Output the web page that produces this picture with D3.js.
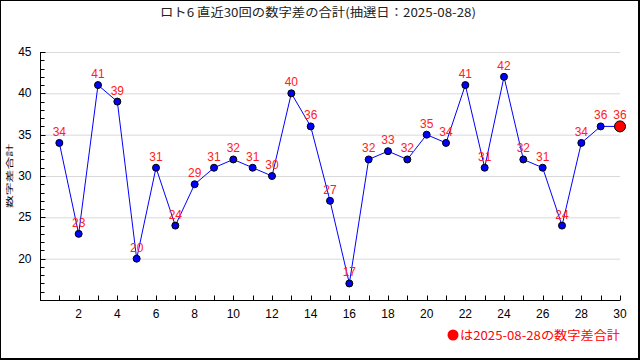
<!DOCTYPE html>
<html>
<head>
<meta charset="utf-8">
<script src="https://cdn.jsdelivr.net/npm/d3@7"></script>
<style>
  body { margin: 0; background: #fff; }
  svg { display: block; }
  text { font-family: "Liberation Sans", "Noto Sans CJK JP", sans-serif; }
  .cjk { font-family: "Noto Sans CJK JP", sans-serif; }
</style>
</head>
<body>
<svg width="640" height="360"></svg>
<script>
const title = "ロト6 直近30回の数字差の合計(抽選日：2025-08-28)";
const yLabel = "数字差合計";
const legendText = "は2025-08-28の数字差合計";

const draws = d3.range(1, 31);
const diffSums = [34, 23, 41, 39, 20, 31, 24, 29, 31, 32, 31, 30, 40, 36, 27,
                  17, 32, 33, 32, 35, 34, 41, 31, 42, 32, 31, 24, 34, 36, 36];
const yTicks = [20, 25, 30, 35, 40, 45];
const xTicks = d3.range(2, 31, 2);

const svg = d3.select("svg"),
    width = +svg.attr("width"),
    height = +svg.attr("height");

// frame
svg.append("rect").attr("width", width).attr("height", height).attr("fill", "#000");
svg.append("rect").attr("x", 1).attr("y", 1)
    .attr("width", width - 3).attr("height", height - 3).attr("fill", "#fff");

const x = d3.scaleLinear().domain([0, 30]).range([40, 620]);
const y = d3.scaleLinear().domain([15, 45]).range([300, 52]);

svg.append("text")
    .attr("class", "cjk")
    .attr("x", 160).attr("y", 17)
    .attr("font-size", 12)
    .attr("textLength", 316)
    .attr("lengthAdjust", "spacingAndGlyphs")
    .attr("fill", "#222")
    .text(title);

// grid
svg.append("g")
    .selectAll("line")
    .data(yTicks)
    .enter().append("line")
    .attr("x1", x(0)).attr("x2", x(30))
    .attr("y1", d => y(d) + 0.5).attr("y2", d => y(d) + 0.5)
    .attr("stroke", "#d9d9d9");

// y axis
const yAxis = svg.append("g").attr("transform", "translate(40.5,0)");
yAxis.append("line").attr("y1", y(45)).attr("y2", y(15)).attr("stroke", "#000");
yAxis.selectAll(".minor")
    .data(d3.range(16, 46))
    .enter().append("line")
    .attr("x1", 0).attr("x2", d => d % 5 === 0 ? 5 : 4)
    .attr("y1", d => Math.round(y(d)) + 0.5).attr("y2", d => Math.round(y(d)) + 0.5)
    .attr("stroke", "#000");
yAxis.selectAll("text")
    .data(yTicks)
    .enter().append("text")
    .attr("x", -9).attr("y", d => y(d) + 4)
    .attr("text-anchor", "end")
    .attr("font-size", 12)
    .text(d => d);

// x axis
const xAxis = svg.append("g").attr("transform", "translate(0,300.5)");
xAxis.append("line").attr("x1", x(0)).attr("x2", x(30)).attr("stroke", "#000");
xAxis.selectAll("line.t")
    .data(draws)
    .enter().append("line")
    .attr("x1", d => Math.round(x(d)) + 0.5).attr("x2", d => Math.round(x(d)) + 0.5)
    .attr("y1", 0).attr("y2", -5)
    .attr("stroke", "#000");
xAxis.selectAll("text")
    .data(xTicks)
    .enter().append("text")
    .attr("x", d => x(d)).attr("y", 17)
    .attr("text-anchor", "middle")
    .attr("font-size", 12)
    .text(d => d);

svg.append("text")
    .attr("class", "cjk")
    .attr("transform", "translate(12,176) rotate(-90) scale(1,0.6)")
    .attr("text-anchor", "middle")
    .attr("font-size", 12)
    .attr("textLength", 64)
    .attr("lengthAdjust", "spacingAndGlyphs")
    .text(yLabel);

const data = draws.map((d, i) => ({ draw: d, value: diffSums[i] }));

svg.append("path")
    .datum(data)
    .attr("fill", "none")
    .attr("stroke", "#0000ff")
    .attr("stroke-width", 1)
    .attr("d", d3.line().x(d => x(d.draw)).y(d => y(d.value)));

const last = data.length - 1;

svg.append("g")
    .selectAll("circle")
    .data(data)
    .enter().append("circle")
    .attr("cx", d => x(d.draw))
    .attr("cy", d => y(d.value))
    .attr("r", (d, i) => i === last ? 5.5 : 3.5)
    .attr("fill", (d, i) => i === last ? "#ff0000" : "#0000ff")
    .attr("stroke", "#000")
    .attr("stroke-width", 1);

svg.append("g")
    .selectAll("text")
    .data(data)
    .enter().append("text")
    .attr("x", d => x(d.draw))
    .attr("y", d => y(d.value) - 7)
    .attr("text-anchor", "middle")
    .attr("font-size", 12)
    .attr("fill", "#ff2020")
    .text(d => d.value);

// legend
svg.append("text")
    .attr("class", "cjk")
    .attr("x", 460).attr("y", 340)
    .attr("font-size", 12)
    .attr("textLength", 160)
    .attr("lengthAdjust", "spacingAndGlyphs")
    .attr("fill", "#ff0000")
    .text(legendText);
svg.append("circle")
    .attr("cx", 453).attr("cy", 335)
    .attr("r", 5.5)
    .attr("fill", "#ff0000");
</script>
</body>
</html>
